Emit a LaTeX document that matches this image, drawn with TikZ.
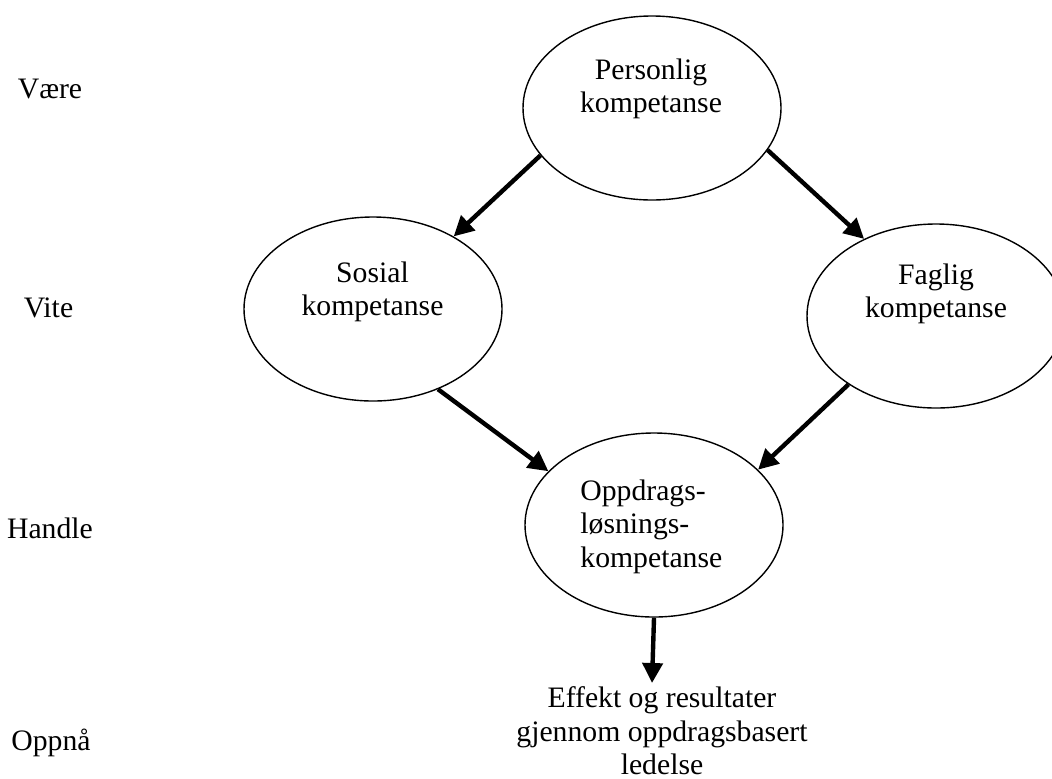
\documentclass[tikz,border=0pt]{standalone}
\usepackage{fontspec}
\setmainfont{Liberation Serif}
\usetikzlibrary{shapes.geometric,arrows.meta}

\begin{document}
\begin{tikzpicture}[
    x=0.5pt, y=-0.5pt,
    font=\fontsize{14.85}{16.6}\selectfont,
    comp/.style={ellipse, draw, line width=0.7pt, inner sep=0pt,
                 minimum width=129pt, minimum height=92pt},
    ctext/.style={align=center, inner sep=0pt, anchor=north},
    level/.style={inner sep=0pt, anchor=base},
    flow/.style={line width=2.2pt, -{Triangle[length=10pt,width=10pt]}}
  ]
  \useasboundingbox (0,0) rectangle (1052,778);

  % levels on the left
  \node[level] (vaere)  at (50,98)   {Være};
  \node[level] (vite)   at (48.5,317) {Vite};
  \node[level] (handle) at (50,538)  {Handle};
  \node[level] (oppna)  at (51,750)  {Oppnå};

  % competence ellipses
  \node[comp] (P) at (652,108) {};
  \node[comp] (S) at (373,309) {};
  \node[comp] (F) at (936,316) {};
  \node[comp] (O) at (654,525) {};

  % their texts
  \node[ctext] (Ptxt) at (651,58.6)  {Personlig\\kompetanse};
  \node[ctext] (Stxt) at (372.5,261.7) {Sosial\\kompetanse};
  \node[ctext] (Ftxt) at (936,263.6) {Faglig\\kompetanse};
  \node[align=left, inner sep=0pt, anchor=north west] (Otxt) at (580,479.6)
       {Oppdrags-\\løsnings-\\kompetanse};

  % outcome
  \node[ctext] (E) at (662,686.5)
       {Effekt og resultater\\gjennom oppdragsbasert\\ledelse};
  \coordinate (Etip) at (652,683);

  % connectors
  \draw[flow] (P.203.9) -- (S.42);
  \draw[flow] (P.340.8) -- (F.133.9);
  \draw[flow] (S.309.2) -- (O.153.8);
  \draw[flow] (F.218.6) -- (O.28.4);
  \draw[flow] (O.south) -- (Etip);
\end{tikzpicture}
\end{document}
